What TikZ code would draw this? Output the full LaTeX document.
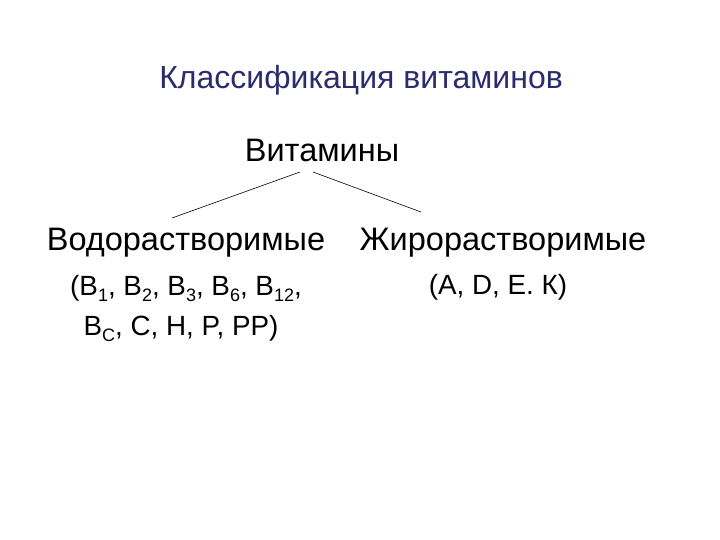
\documentclass[tikz,border=0pt]{standalone}
\usepackage{fontspec}
\setmainfont{Liberation Sans}
\usepackage{tikz}
\usetikzlibrary{positioning}
\definecolor{titleblue}{RGB}{43,43,110}
\newcommand{\vsub}[1]{\raisebox{-0.22em}{\fontsize{18}{20}\selectfont #1}}

\begin{document}
\begin{tikzpicture}[
    x = 1pt, y = -1pt, % pixel grid of the slide
    semithick % line style
    ]

    \tikzset{every node/.style={inner sep = 0pt, anchor = base}}
    \tikzset{head/.style={font=\fontsize{32}{38}\selectfont, text=titleblue}}
    \tikzset{group/.style={font=\fontsize{32.5}{38}\selectfont}}
    \tikzset{members/.style={font=\fontsize{27.8}{32}\selectfont}}

    \useasboundingbox (0,0) rectangle (720,540);

    \node[head] (title) at (361,89) {Классификация витаминов};
    \node[group] (vit) at (322,162) {Витамины};
    \node[group] (water) at (186,251) {Водорастворимые};
    \node[group] (fat) at (503,251) {Жирорастворимые};
    \node[members] (wlist1) at (186,295) {(B\vsub{1}, B\vsub{2}, B\vsub{3}, B\vsub{6}, B\vsub{12},};
    \node[members] (wlist2) at (181,335) {B\vsub{C}, C, H, P, PP)};
    \node[members] (flist) at (498,294) {(A, D, E. К)};

    % ends of the two branches
    \coordinate (vl) at (300,172);
    \coordinate (vr) at (313,172);
    \coordinate (wl) at (172,218);
    \coordinate (fl) at (421,212);

    \draw (vl) -- (wl);
    \draw (vr) -- (fl);
\end{tikzpicture}
\end{document}
